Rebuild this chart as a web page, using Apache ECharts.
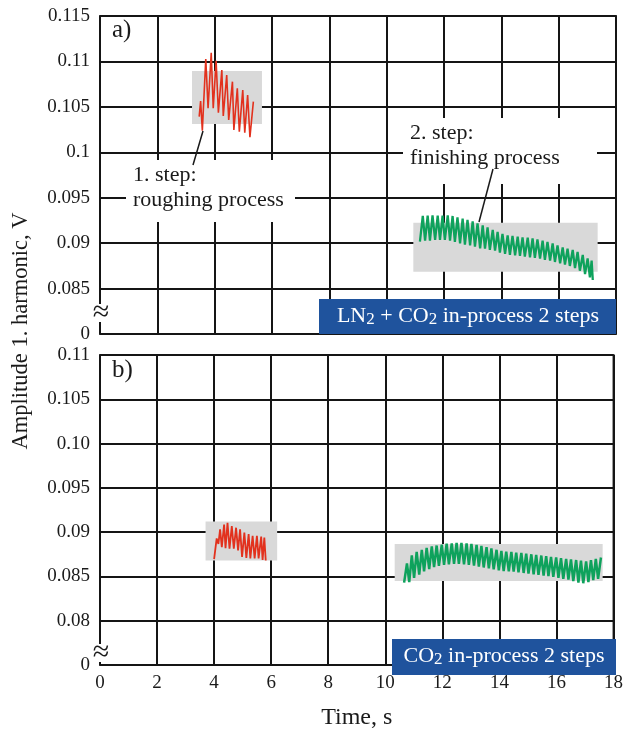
<!DOCTYPE html>
<html><head><meta charset="utf-8">
<script src="https://cdn.jsdelivr.net/npm/echarts@6/dist/echarts.min.js"></script>
<style>html,body{margin:0;padding:0;background:#fff}#c{width:626px;height:731px}</style>
</head><body><div id="c"></div>
<script>
// ---------- tick labels ----------
const xTickLabels = ['0','2','4','6','8','10','12','14','16','18'];
const topYLabels = ['0','0.085','0.09','0.095','0.1','0.105','0.11','0.115'];
const bottomYLabels = ['0','0.08','0.085','0.09','0.095','0.10','0.105','0.11'];

// ---------- panel a) data ----------
const topRedT = [3.46,3.51,3.57,3.69,3.77,3.88,3.95,4.05,4.13,4.25,4.30,4.42,4.49,4.62,4.67,4.79,4.86,4.98,5.05,5.15,5.23,5.35];
const topRedV = [0.10392,0.10565,0.10238,0.11027,0.10484,0.11096,0.10484,0.11008,0.10436,0.10906,0.10399,0.10851,0.10355,0.10777,0.10245,0.10704,0.10227,0.10686,0.10216,0.10631,0.10165,0.10557];

const topGreenTroughT = [11.16,11.34,11.51,11.69,11.86,12.03,12.21,12.38,12.56,12.73,12.91,13.08,13.26,13.43,13.60,13.78,13.95,14.13,14.30,14.48,14.65,14.82,15.00,15.17,15.35,15.52,15.70,15.87,16.05,16.22,16.39,16.57,16.74,16.92,17.09,17.19];
const topGreenTroughV = [0.09016,0.09027,0.09027,0.09035,0.09035,0.09035,0.09027,0.09013,0.08998,0.08983,0.08976,0.08961,0.08943,0.08939,0.08925,0.08917,0.08895,0.08881,0.08870,0.08866,0.08859,0.08851,0.08844,0.08837,0.08829,0.08815,0.08807,0.08793,0.08778,0.08763,0.08749,0.08726,0.08697,0.08660,0.08624,0.08594];
const topGreenPeakT = [11.26,11.43,11.60,11.78,11.95,12.13,12.30,12.47,12.65,12.82,13.00,13.17,13.35,13.52,13.70,13.87,14.04,14.22,14.39,14.57,14.74,14.92,15.09,15.26,15.44,15.61,15.79,15.96,16.14,16.31,16.49,16.66,16.84,17.01,17.15];
const topGreenPeakV = [0.09299,0.09302,0.09306,0.09302,0.09302,0.09306,0.09299,0.09284,0.09269,0.09255,0.09240,0.09218,0.09196,0.09174,0.09145,0.09123,0.09101,0.09086,0.09079,0.09071,0.09064,0.09060,0.09053,0.09042,0.09027,0.09013,0.08998,0.08976,0.08954,0.08939,0.08925,0.08903,0.08870,0.08833,0.08807];

// ---------- panel b) data ----------
const botRedT = [4.00,4.09,4.15,4.21,4.27,4.35,4.40,4.47,4.54,4.62,4.69,4.77,4.84,4.91,4.98,5.06,5.13,5.21,5.27,5.35,5.42,5.50,5.56,5.65,5.70,5.76,5.81];
const botRedV = [0.08696,0.08929,0.08867,0.09031,0.08831,0.09086,0.08820,0.09104,0.08813,0.09068,0.08813,0.09050,0.08794,0.09031,0.08721,0.08995,0.08710,0.08977,0.08703,0.08958,0.08703,0.08958,0.08703,0.08950,0.08685,0.08940,0.08680];

const botGreenTroughT = [10.66,10.84,11.01,11.19,11.36,11.54,11.71,11.88,12.06,12.23,12.41,12.58,12.76,12.93,13.11,13.28,13.45,13.63,13.80,13.98,14.15,14.33,14.50,14.67,14.85,15.02,15.20,15.37,15.55,15.72,15.89,16.07,16.24,16.42,16.59,16.77,16.94,17.12,17.29,17.46];
const botGreenTroughV = [0.08430,0.08437,0.08484,0.08521,0.08557,0.08583,0.08605,0.08619,0.08630,0.08637,0.08641,0.08641,0.08637,0.08630,0.08623,0.08612,0.08601,0.08590,0.08579,0.08568,0.08561,0.08557,0.08554,0.08546,0.08539,0.08532,0.08524,0.08517,0.08510,0.08503,0.08495,0.08484,0.08473,0.08463,0.08448,0.08430,0.08423,0.08437,0.08459,0.08473];
const botGreenPeakT = [10.76,10.93,11.10,11.28,11.45,11.63,11.80,11.98,12.15,12.33,12.50,12.67,12.85,13.02,13.20,13.37,13.55,13.72,13.90,14.07,14.24,14.42,14.59,14.77,14.94,15.12,15.29,15.47,15.64,15.81,15.99,16.16,16.34,16.51,16.69,16.86,17.04,17.21,17.38,17.56];
const botGreenPeakV = [0.08648,0.08739,0.08776,0.08801,0.08823,0.08838,0.08849,0.08860,0.08871,0.08874,0.08878,0.08878,0.08874,0.08867,0.08856,0.08845,0.08831,0.08816,0.08801,0.08787,0.08780,0.08776,0.08769,0.08765,0.08758,0.08750,0.08743,0.08736,0.08729,0.08721,0.08714,0.08707,0.08699,0.08692,0.08685,0.08678,0.08670,0.08685,0.08699,0.08714];

// ---------- highlight boxes (data coords: [t1,v1],[t2,v2]) ----------
const boxTopRed = [[3.21,0.10895],[5.65,0.10311]];
const boxTopGreen = [[10.93,0.09225],[17.36,0.08686]];
const boxBotRed = [[3.70,0.09119],[6.21,0.08681]];
const boxBotGreen = [[10.33,0.08867],[17.62,0.08448]];

function pairs(t, v){ return t.map((x,i)=>[x, v[i]]); }
function zig(tt, tv, pt, pv){
  const out = [];
  const n = Math.max(tt.length, pt.length);
  for (let i=0;i<n;i++){
    if (i<tt.length) out.push([tt[i], tv[i]]);
    if (i<pt.length) out.push([pt[i], pv[i]]);
  }
  return out;
}

const FONT = "'Liberation Serif','DejaVu Serif',serif";
const RED = '#e2311d', GREEN = '#0ea25c', BOX = '#d9d9d9', BLUE = '#1f539d';

function yAxisCfg(idx, min, max, labels){
  return {
    type:'value', gridIndex:idx, min:min, max:max, interval:0.005,
    axisLine:{show:false}, axisTick:{show:false},
    splitLine:{show:true, lineStyle:{color:'#151515', width:2}},
    axisLabel:{
      fontFamily:FONT, fontSize:19, color:'#1a1a1a', margin:10,
      showMinLabel:true, showMaxLabel:true,
      formatter:(v)=>labels[Math.round((v-min)/0.005)]
    }
  };
}
function xAxisCfg(idx, showLabels){
  return {
    type:'value', gridIndex:idx, min:0, max:18, interval:2,
    axisLine:{show:false}, axisTick:{show:false},
    splitLine:{show:true, lineStyle:{color:'#151515', width:2}},
    axisLabel:{show:showLabels, fontFamily:FONT, fontSize:19, color:'#1a1a1a', margin:9,
      formatter:(v)=>xTickLabels[Math.round(v/2)]},
    name: showLabels ? 'Time, s' : '',
    nameLocation:'middle', nameGap:41,
    nameTextStyle:{fontFamily:FONT, fontSize:24, color:'#1a1a1a'}
  };
}
function boxArea(b){
  return {silent:true, itemStyle:{color:BOX, opacity:1},
    data:[[{coord:b[0]},{coord:b[1]}]]};
}
function line(idx, data, color, w, box){
  return {type:'line', xAxisIndex:idx, yAxisIndex:idx, data:data, symbol:'none',
    showSymbol:false, lineStyle:{color:color, width:w}, itemStyle:{color:color},
    markArea: boxArea(box), z:3, animation:false};
}

const chart = echarts.init(document.getElementById('c'), null, {renderer:'canvas'});
const sub = {fontFamily:FONT, fontSize:17, color:'#fff', padding:[8,0,0,0]};
chart.setOption({
  animation:false,
  backgroundColor:'#fff',
  grid:[
    {left:100, top:16, width:516, height:318, show:true, borderColor:'#3a3a3a', borderWidth:2, backgroundColor:'#fff'},
    {left:100, top:355, width:516, height:320, show:true, borderColor:'#3a3a3a', borderWidth:2, backgroundColor:'#fff'}
  ],
  xAxis:[xAxisCfg(0,false), xAxisCfg(1,true)],
  yAxis:[yAxisCfg(0,0.08,0.115,topYLabels), yAxisCfg(1,0.075,0.11,bottomYLabels)],
  series:[
    line(0, pairs(topRedT, topRedV), RED, 1.6, boxTopRed),
    line(0, zig(topGreenTroughT, topGreenTroughV, topGreenPeakT, topGreenPeakV), GREEN, 2.3, boxTopGreen),
    line(1, pairs(botRedT, botRedV), RED, 1.8, boxBotRed),
    line(1, zig(botGreenTroughT, botGreenTroughV, botGreenPeakT, botGreenPeakV), GREEN, 2.5, boxBotGreen)
  ],
  graphic:[
    {type:'text', x:21, y:331, rotation:Math.PI/2, z:10,
      style:{text:'Amplitude 1. harmonic, V', font:"22.5px "+FONT, fill:'#1a1a1a', align:'center', verticalAlign:'middle'}},
    {type:'text', x:112, y:30, z:10, style:{text:'a)', font:"25px "+FONT, fill:'#1a1a1a', verticalAlign:'middle'}},
    {type:'text', x:112, y:370, z:10, style:{text:'b)', font:"25px "+FONT, fill:'#1a1a1a', verticalAlign:'middle'}},
    // annotation 1
    {type:'rect', shape:{x:126, y:160, width:169, height:62}, style:{fill:'#fff'}, z:10},
    {type:'text', x:133, y:163, z:11, style:{text:'1. step:\nroughing process', font:"22px "+FONT, fill:'#1a1a1a', lineHeight:25}},
    {type:'line', shape:{x1:193, y1:165, x2:203, y2:131}, style:{stroke:'#1a1a1a', lineWidth:1.5}, z:12},
    // annotation 2
    {type:'rect', shape:{x:403, y:118, width:194, height:66}, style:{fill:'#fff'}, z:10},
    {type:'text', x:410, y:121, z:11, style:{text:'2. step:\nfinishing process', font:"22px "+FONT, fill:'#1a1a1a', lineHeight:25}},
    {type:'line', shape:{x1:493, y1:169, x2:479, y2:222}, style:{stroke:'#1a1a1a', lineWidth:1.5}, z:12},
    // axis breaks
    {type:'rect', shape:{x:93, y:304, width:16, height:18}, style:{fill:'#fff'}, z:10},
    {type:'text', x:101, y:313, z:11, style:{text:'≈', font:"30px "+FONT, fill:'#1a1a1a', align:'center', verticalAlign:'middle'}},
    {type:'rect', shape:{x:93, y:644, width:16, height:18}, style:{fill:'#fff'}, z:10},
    {type:'text', x:101, y:653, z:11, style:{text:'≈', font:"30px "+FONT, fill:'#1a1a1a', align:'center', verticalAlign:'middle'}},
    // blue labels
    {type:'rect', shape:{x:319, y:299, width:297, height:35}, style:{fill:BLUE}, z:10},
    {type:'text', x:468, y:316, z:11, style:{text:'LN{s|2} + CO{s|2} in-process 2 steps', font:"22px "+FONT, fill:'#fff', align:'center', verticalAlign:'middle', rich:{s:sub}}},
    {type:'rect', shape:{x:392, y:639, width:224, height:36}, style:{fill:BLUE}, z:10},
    {type:'text', x:504, y:656, z:11, style:{text:'CO{s|2} in-process 2 steps', font:"22px "+FONT, fill:'#fff', align:'center', verticalAlign:'middle', rich:{s:sub}}}
  ]
});
</script>
</body></html>
